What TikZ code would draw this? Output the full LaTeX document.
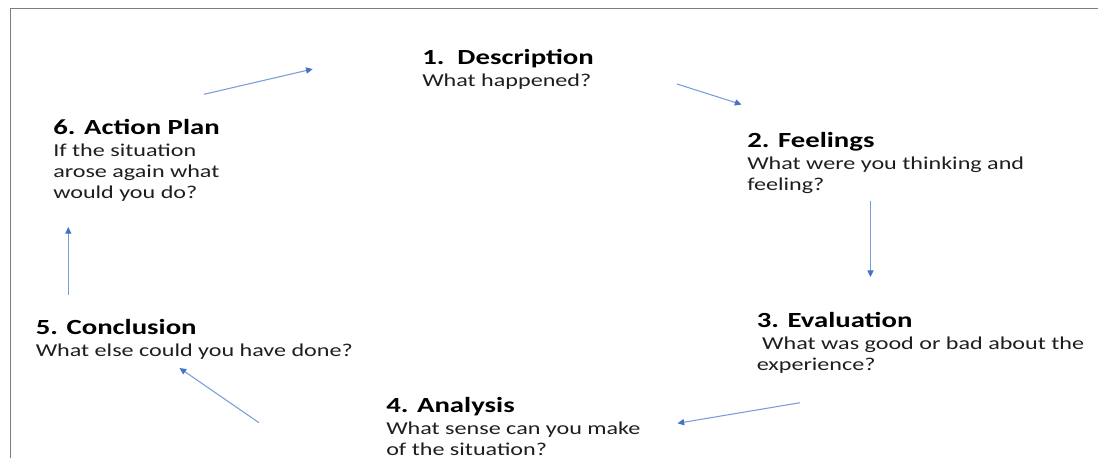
\documentclass[tikz,border=0pt]{standalone}
\usepackage{fontspec}
\setmainfont[FakeStretch=1.33]{Carlito}
\usetikzlibrary{arrows.meta}

\definecolor{framegrey}{RGB}{125,125,125}
\definecolor{flowblue}{RGB}{120,158,218}
\definecolor{headblue}{RGB}{68,114,196}
\definecolor{inkgrey}{RGB}{30,30,30}

% a stage of the cycle: bold heading, then its question lines
\newcommand{\stagetitle}[1]{\fontsize{16.2}{15.8}\selectfont\bfseries\color{black}#1}
\newcommand{\stageblock}[2]{\begin{tabular}[t]{@{}l@{}}\stagetitle{#1}\\[0.8pt]#2\end{tabular}}

\tikzset{
  stage/.style={anchor=base west, inner sep=0pt, text=inkgrey,
    font=\fontsize{13.6}{15.9}\selectfont},
  flow/.style={draw=flowblue, line width=0.8pt,
    -{Triangle[length=5pt,width=4.6pt,fill=headblue,color=headblue]}},
  frameline/.style={draw=framegrey, line width=1.2pt}
}

\begin{document}
\begin{tikzpicture}[x=0.75pt, y=-0.75pt]
  \useasboundingbox (0,0) rectangle (1098,458);

  % open frame: top and left edges only
  \coordinate (frameTR) at (1098,8.5);
  \coordinate (frameTL) at (10.5,8.5);
  \coordinate (frameBL) at (10.5,458);
  \draw[frameline] (frameTR) -- (frameTL) -- (frameBL);

  % the six stages
  \node[stage] (desc) at (422,64)
    {\stageblock{1.\ \ Description}{What happened?}};
  \node[stage] (feel) at (747,147)
    {\stageblock{2. Feelings}{What were you thinking and\\feeling?}};
  \node[stage] (eval) at (756.5,327)
    {\stageblock{3. Evaluation}{\ What was good or bad about the\\experience?}};
  \node[stage] (anal) at (386,412)
    {\stageblock{4. Analysis}{What sense can you make\\of the situation?}};
  \node[stage] (conc) at (35.5,334)
    {\stageblock{5. Conclusion}{What else could you have done?}};
  \node[stage] (plan) at (53,134)
    {\stageblock{6. Action Plan}{If the situation\\arose again what\\would you do?}};

  % arrow end points between the stages
  \coordinate (planOut) at (204,94.3);
  \coordinate (descIn)  at (312.7,69);
  \coordinate (descOut) at (677,84);
  \coordinate (feelIn)  at (741.5,104.5);
  \coordinate (feelOut) at (870.5,201);
  \coordinate (evalIn)  at (870.5,277);
  \coordinate (evalOut) at (800,402.7);
  \coordinate (analIn)  at (677.5,423.3);
  \coordinate (analOut) at (259,422.7);
  \coordinate (concIn)  at (179.5,368);
  \coordinate (concOut) at (68.3,295);
  \coordinate (planIn)  at (68.3,227);

  \draw[flow] (planOut) -- (descIn);
  \draw[flow] (descOut) -- (feelIn);
  \draw[flow] (feelOut) -- (evalIn);
  \draw[flow] (evalOut) -- (analIn);
  \draw[flow] (analOut) -- (concIn);
  \draw[flow] (concOut) -- (planIn);
\end{tikzpicture}
\end{document}
